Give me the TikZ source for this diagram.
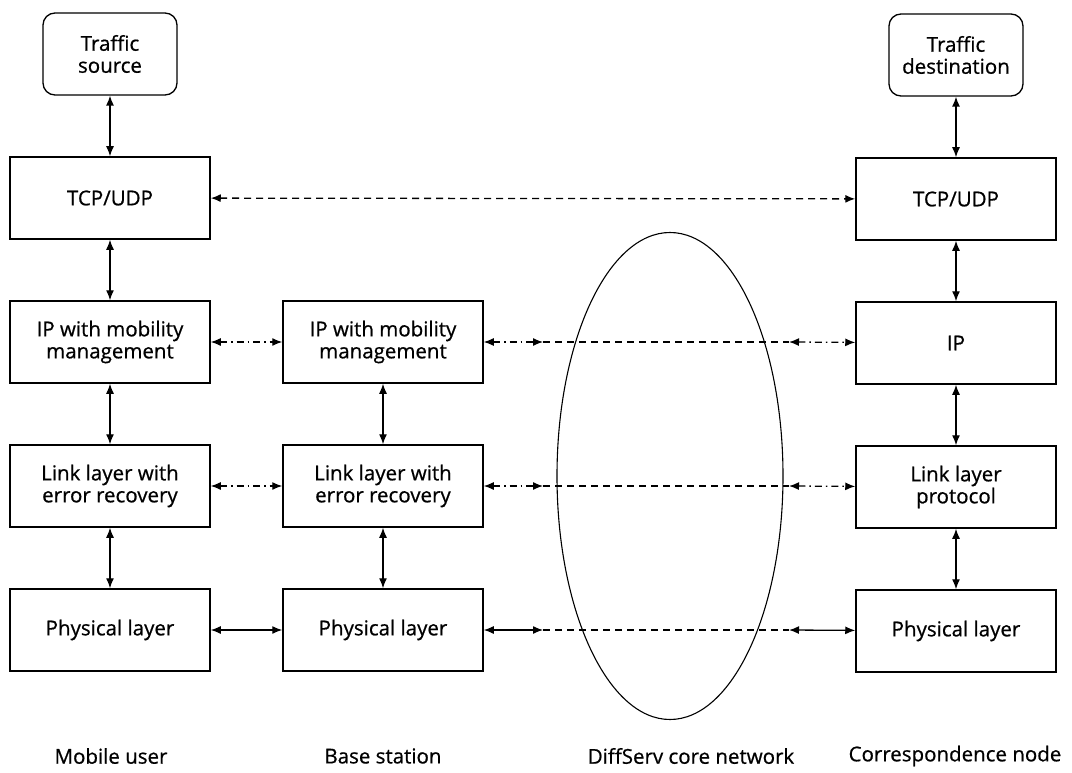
\documentclass[tikz,border=0pt]{standalone}
\usepackage{fontspec}
\setmainfont{Open Sans}[FakeBold=0.7]
\usetikzlibrary{shapes.geometric, arrows.meta}
\begin{document}
\begin{tikzpicture}[x=1pt, y=-1pt, node distance={144pt},
        every node/.style = {font=\fontsize{20.5}{22}\selectfont},
        main/.style = {draw, line width=1.5pt, minimum width=200pt, minimum height=82pt, align=center, inner sep=0pt},
        term/.style = {draw, line width=1.3pt, rounded corners=12pt, minimum width=134pt, minimum height=82pt, align=center, inner sep=0pt},
        link/.style = {{Latex[length=10pt,width=8pt]}-{Latex[length=10pt,width=8pt]}, line width=1.3pt},
        dashdot/.style = {dash pattern=on 7pt off 4pt on 1.5pt off 4pt}]
                \useasboundingbox (0,0) rectangle (1072,773);

                % mobile user
                \node[term] (1) at (110,54) {Traffic\\source};
                \node[main] (2) [below of = 1] {TCP/UDP};
                \node[main] (3) [below of = 2] {IP with mobility\\management};
                \node[main] (4) [below of = 3] {Link layer with\\error recovery};
                \node[main] (5) [below of = 4] {Physical layer};

                % base station
                \node[main] (6) at (383,342) {IP with mobility\\management};
                \node[main] (7) [below of = 6] {Link layer with\\error recovery};
                \node[main] (8) [below of = 7] {Physical layer};

                % correspondence node
                \node[term] (9) at (956,55) {Traffic\\destination};
                \node[main] (10) [below of = 9] {TCP/UDP};
                \node[main] (11) [below of = 10] {IP};
                \node[main] (12) [below of = 11] {Link layer\\protocol};
                \node[main] (13) [below of = 12] {Physical layer};

                % core network
                \node[draw, ellipse, line width=1.1pt, minimum width=226pt, minimum height=487pt] (14) at (670,476) {};

                \coordinate (a6) at (543,342);
                \coordinate (a7) at (543,486);
                \coordinate (a8) at (543,630);
                \coordinate (b6) at (789,342);
                \coordinate (b7) at (789,486);
                \coordinate (b8) at (789,630);

                \draw[link] (1) -- (2);
                \draw[link] (2) -- (3);
                \draw[link] (3) -- (4);
                \draw[link] (4) -- (5);
                \draw[link] (6) -- (7);
                \draw[link] (7) -- (8);
                \draw[link] (9) -- (10);
                \draw[link] (10) -- (11);
                \draw[link] (11) -- (12);
                \draw[link] (12) -- (13);

                \draw[link, dash pattern=on 7pt off 5pt] (2) -- (10);
                \draw[link, dashdot] (3) -- (6);
                \draw[link, dashdot] (4) -- (7);
                \draw[link] (5) -- (8);

                \draw[link, dashdot] (6) -- (a6);
                \draw[link, dashdot] (7) -- (a7);
                \draw[link] (8) -- (a8);
                \draw[line width=1.3pt, dash pattern=on 7pt off 5pt] (a6) -- (b6) (a7) -- (b7) (a8) -- (b8);
                \draw[link, dashdot] (b6) -- (11);
                \draw[link, dashdot] (b7) -- (12);
                \draw[link] (b8) -- (13);

                \node (15) at (111,756) {Mobile user};
                \node (16) [right of = 15, node distance=272pt] {Base station};
                \node (17) at (691,756) {DiffServ core network};
                \node (18) at (955,756) {Correspondence node};

            \end{tikzpicture}
\end{document}
